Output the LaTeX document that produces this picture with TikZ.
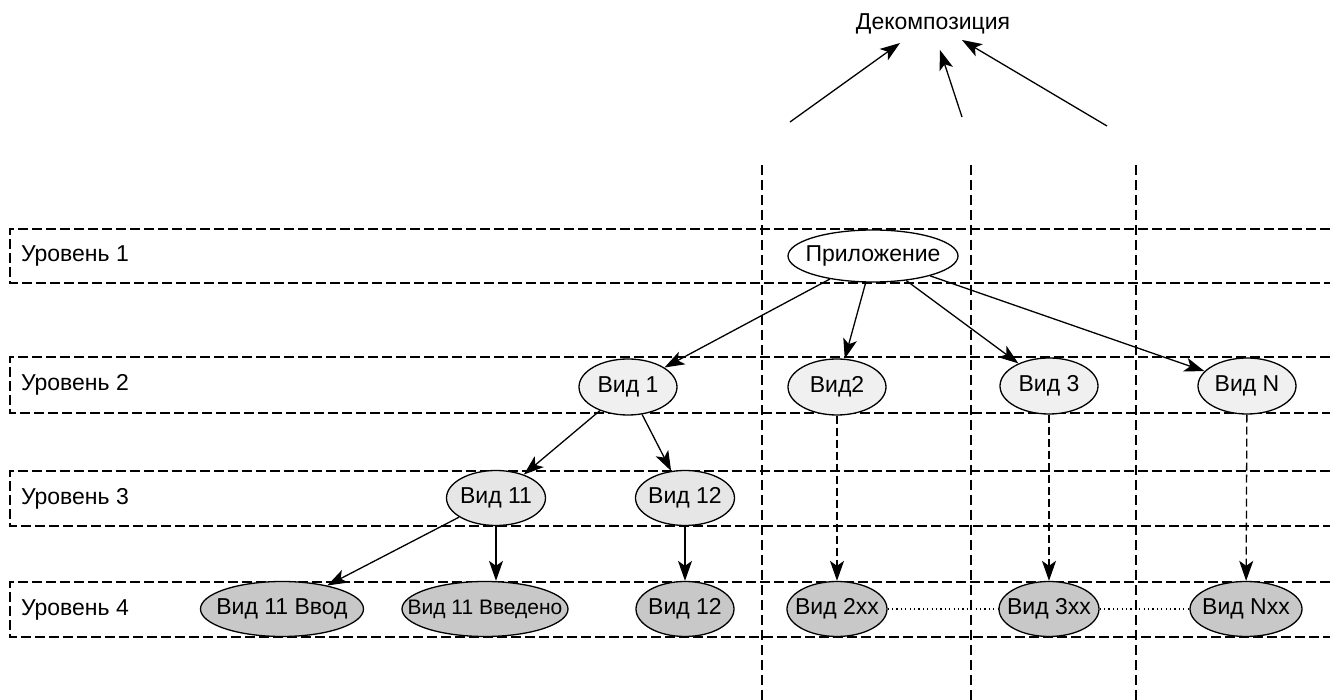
\documentclass[tikz,border=0pt]{standalone}
\usepackage{fontspec}
\setmainfont{Liberation Sans}
\usetikzlibrary{positioning,arrows.meta,shapes.geometric}
\definecolor{cRoot}{HTML}{FFFFFF}
\definecolor{cView}{HTML}{F0F0F0}
\definecolor{cSub}{HTML}{E6E6E6}
\definecolor{cLeaf}{HTML}{C8C8C8}
\tikzset{
  view/.style={ellipse, draw, line width=0.65pt, inner xsep=-8pt, inner ysep=0pt,
    minimum height=28pt, minimum width=49pt},
  rowbox/.style={line width=0.65pt, dash pattern=on 5pt off 2pt},
  split/.style={line width=0.65pt, dash pattern=on 5pt off 2.5pt},
  link/.style={line width=0.65pt, -{Stealth[length=10pt,width=7pt,inset=2.5pt]}},
  mapto/.style={link, dash pattern=on 4pt off 2pt},
  peer/.style={line width=0.6pt, dash pattern=on 0.6pt off 1.6pt},
}

\begin{document}
\begin{tikzpicture}[x=0.5pt, y=-0.5pt, font=\fontsize{11.5}{13}\selectfont]
  \useasboundingbox (0,0) rectangle (1330,700);
  % levels
  \foreach \top/\bot/\n in {229/283/1, 357/413/2, 471/526/3, 582/637/4} {
    \draw[rowbox] (1330,\top) -| (10,\bot) -- (1330,\bot);
    \node[anchor=west] (lvl\n) at (14,{(\top+\bot)/2}) {Уровень \n};
  }
  \foreach \x in {762,971,1136}
    \draw[split] (\x,165) -- (\x,700);

  % decomposition
  \node (dec) at (933,24) {Декомпозиция};
  \coordinate (decA) at (790,122);
  \coordinate (decB) at (962,117);
  \coordinate (decC) at (1107,126);
  \coordinate (decAtip) at (900,43);
  \coordinate (decBtip) at (940,50);
  \coordinate (decCtip) at (962,40);
  \draw[link] (decA) -- (decAtip);
  \draw[link] (decB) -- (decBtip);
  \draw[link] (decC) -- (decCtip);

  % tree
  \node[view, fill=cRoot, minimum width=85pt, minimum height=26pt] (app) at (873,256) {Приложение};
  \node[view, fill=cView] (v1) at (628,387) {Вид 1};
  \node[view, fill=cView] (v2) at (837,387) {Вид2};
  \node[view, fill=cView] (v3) at (1049,386) {Вид 3};
  \node[view, fill=cView] (vN) at (1247,386) {Вид N};
  \node[view, fill=cSub, minimum width=49.5pt, minimum height=27.5pt] (v11) at (496,498) {Вид 11};
  \node[view, fill=cSub, minimum width=49.5pt, minimum height=27.5pt] (v12) at (685,498) {Вид 12};
  \node[view, fill=cLeaf, minimum width=81.5pt, minimum height=27.5pt] (v11in) at (282,609) {Вид 11 Ввод};
  \node[view, fill=cLeaf, font=\fontsize{10.5}{12}\selectfont, inner xsep=-10pt,
    minimum width=83pt, minimum height=27.5pt] (v11done) at (485,609) {Вид 11 Введено};
  \node[view, fill=cLeaf, minimum height=27.5pt] (v12leaf) at (685,609) {Вид 12};
  \node[view, fill=cLeaf, minimum width=50pt, minimum height=27.5pt] (v2xx) at (837,609) {Вид 2xx};
  \node[view, fill=cLeaf, minimum width=50pt, minimum height=27.5pt] (v3xx) at (1049,609) {Вид 3xx};
  \node[view, fill=cLeaf, minimum width=56pt, minimum height=27.5pt] (vNxx) at (1246,609) {Вид Nxx};

  \draw[link] (app) -- (v1);
  \draw[link] (app) -- (v2);
  \draw[link] (app) -- (v3);
  \draw[link] (app) -- (vN);
  \draw[link] (v1) -- (v11);
  \draw[link] (v1) -- (v12);
  \draw[link] (v11) -- (v11in);
  \draw[link] (v11) -- (v11 |- v11done.north);
  \draw[link] (v12) -- (v12leaf);
  \draw[mapto] (v2) -- (v2xx);
  \draw[mapto] (v3) -- (v3xx);
  \draw[mapto] (vN) -- (vNxx);
  \draw[peer] (v2xx) -- (v3xx);
  \draw[peer] (v3xx) -- (vNxx);
\end{tikzpicture}
\end{document}
